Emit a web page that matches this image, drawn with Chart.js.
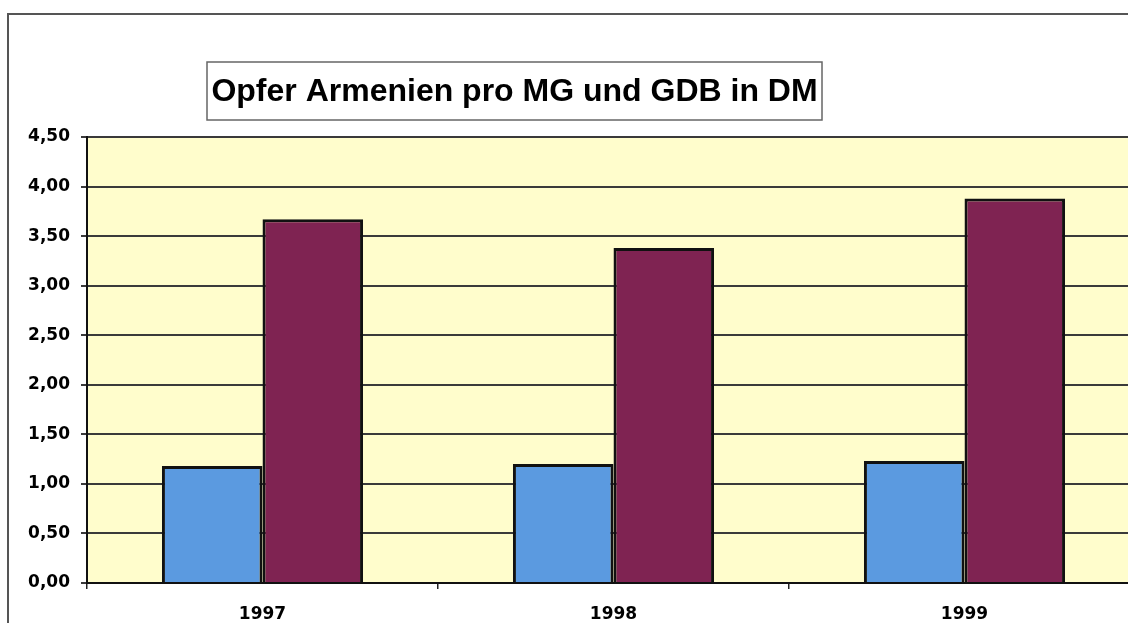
<!DOCTYPE html>
<html>
<head>
<meta charset="utf-8">
<script src="https://cdn.jsdelivr.net/npm/chart.js@4/dist/chart.umd.min.js"></script>
<style>
  html, body { margin: 0; padding: 0; background: #ffffff; overflow: hidden; width: 1128px; height: 623px; }
  #frame { position: absolute; left: 7px; top: 13px; width: 1200px; height: 700px; border-left: 2px solid #555; border-top: 2px solid #555; }
  #c { position: absolute; left: 0; top: 0; }
</style>
</head>
<body>
<div id="frame"></div>
<canvas id="c" width="1140" height="623"></canvas>
<script>
const categories = ['1997', '1998', '1999'];
const mgValues = [1.18, 1.20, 1.23];
const gdbValues = [3.67, 3.38, 3.88];
const yTickLabels = ['0,00', '0,50', '1,00', '1,50', '2,00', '2,50', '3,00', '3,50', '4,00', '4,50'];
const chartTitle = 'Opfer Armenien pro MG und GDB in DM';

const plotBg = {
  id: 'plotBg',
  beforeDraw(chart) {
    const { ctx, chartArea: a } = chart;
    ctx.save();
    ctx.fillStyle = '#fffdcc';
    ctx.fillRect(a.left, a.top, a.right - a.left, a.bottom - a.top);
    ctx.restore();
  }
};

const titleBox = {
  id: 'titleBox',
  afterLayout(chart) {
    const t = chart.titleBlock;
    const boxL = 207, boxR = 822, boxT = 62, boxB = 120;
    const lh = t.height;
    t.left = boxL; t.right = boxR; t.width = boxR - boxL;
    t.top = (boxT + boxB) / 2 - lh / 2 + 1;
    t.bottom = t.top + lh;
  },
  beforeDraw(chart) {
    const { ctx } = chart;
    ctx.save();
    ctx.strokeStyle = '#666';
    ctx.lineWidth = 1.5;
    ctx.fillStyle = '#ffffff';
    ctx.fillRect(207, 62, 615, 58);
    ctx.strokeRect(207, 62, 615, 58);
    ctx.restore();
  }
};

new Chart(document.getElementById('c'), {
  type: 'bar',
  data: {
    labels: categories,
    datasets: [
      { label: 'MG', data: mgValues, backgroundColor: '#5b9ae0', borderColor: '#111', borderWidth: 3 },
      { label: 'GDB', data: gdbValues, backgroundColor: '#7f2352', borderColor: '#111', borderWidth: 3 }
    ]
  },
  options: {
    responsive: false,
    animation: false,
    devicePixelRatio: 1,
    layout: { padding: { top: 137 - 38.4, left: 0, right: 0, bottom: 0 } },
    datasets: { bar: { categoryPercentage: 0.573, barPercentage: 1.0 } },
    plugins: {
      legend: { display: false },
      tooltip: { enabled: false },
      title: {
        display: true,
        text: chartTitle,
        color: '#000',
        font: { family: '"Liberation Sans", Arial, sans-serif', size: 32, weight: 'bold', lineHeight: 1.2 },
        padding: { top: 0, bottom: 0 }
      }
    },
    scales: {
      x: {
        afterFit(scale) { scale.height = 40; },
        grid: { display: true, drawOnChartArea: false, drawTicks: true, tickLength: 6, color: '#222', lineWidth: 1.5, offset: true },
        border: { display: true, color: '#111', width: 2 },
        ticks: {
          color: '#000', padding: 15,
          font: { family: '"DejaVu Sans", sans-serif', size: 17, weight: 'bold' }
        }
      },
      y: {
        min: 0, max: 4.5,
        afterFit(scale) { scale.width = 87; },
        grid: { color: '#3a3a3a', lineWidth: 2, tickLength: 6, drawTicks: true },
        border: { display: true, color: '#111', width: 2 },
        ticks: {
          stepSize: 0.5, color: '#000', padding: 11,
          font: { family: '"DejaVu Sans", sans-serif', size: 17, weight: 'bold' },
          callback: (v, i) => yTickLabels[i]
        }
      }
    }
  },
  plugins: [plotBg, titleBox]
});
</script>
</body>
</html>
